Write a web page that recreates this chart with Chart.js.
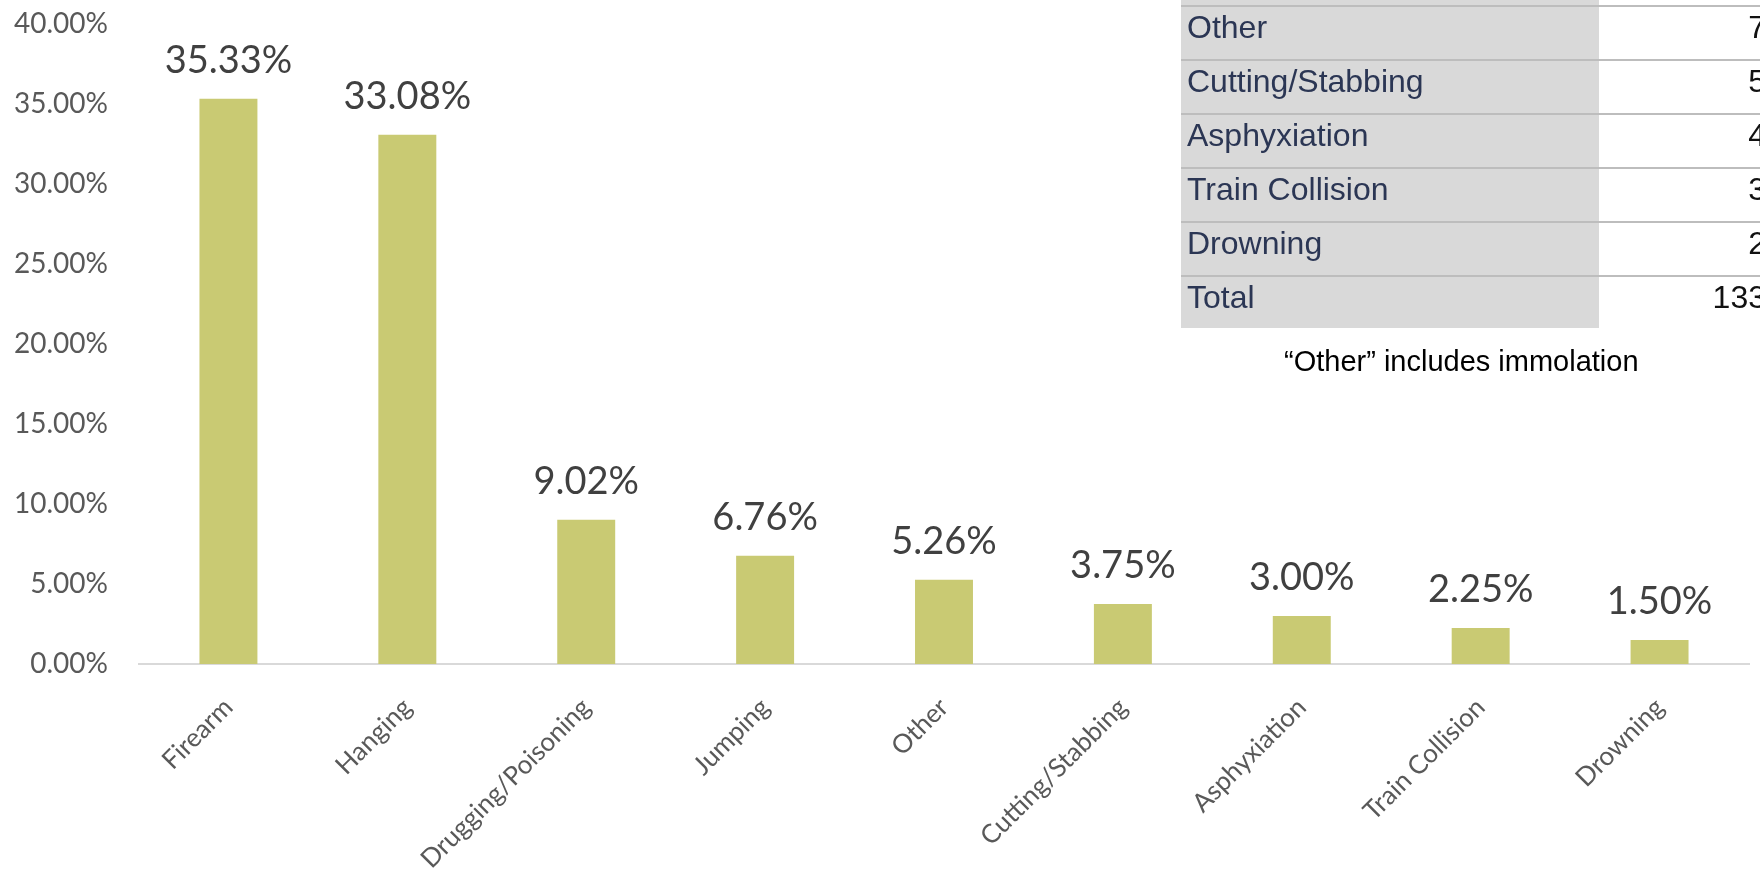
<!DOCTYPE html>
<html>
<head>
<meta charset="utf-8">
<script src="https://cdn.jsdelivr.net/npm/chart.js@4.4.1/dist/chart.umd.min.js"></script>
<style>
  html, body { margin: 0; padding: 0; background: #fff; overflow: hidden; }
  #wadah { position: relative; width: 1760px; height: 886px; overflow: hidden; }
  #grafik { position: absolute; left: 0; top: 0; }
  .kolom_abu { position: absolute; left: 1181px; top: 0; width: 418px; height: 328px; background: #d9d9d9; }
  .baris { position: absolute; left: 1181px; width: 585px; height: 52px; border-top: 2px solid #bdbdbd;
           font-family: "Liberation Sans", Arial, sans-serif; font-size: 32px; line-height: 40px; }
  .baris .nama { position: absolute; left: 6px; top: 0; color: #2b3654; white-space: nowrap; }
  .baris .jumlah { position: absolute; right: 0; top: 0; color: #111; }
  .catatan { position: absolute; left: 1284px; top: 341px; font-family: "Liberation Sans", Arial, sans-serif;
             font-size: 29px; line-height: 40px; color: #000; white-space: nowrap; }
</style>
</head>
<body>
<div id="wadah">
  <canvas id="grafik" width="1760" height="886"></canvas>
  <div class="kolom_abu"></div>
  <div id="tabel"></div>
  <div class="catatan">“Other” includes immolation</div>
</div>
<script>
const kategori = ["Firearm", "Hanging", "Drugging/Poisoning", "Jumping", "Other",
  "Cutting/Stabbing", "Asphyxiation", "Train Collision", "Drowning"];
const persen = [35.33, 33.08, 9.02, 6.76, 5.26, 3.75, 3.00, 2.25, 1.50];
const yMaks = 40;
const yLangkah = 5;

// visible part of the table on the right
const tabelNama = ["Other", "Cutting/Stabbing", "Asphyxiation", "Train Collision", "Drowning", "Total"];
const tabelJumlah = [7, 5, 4, 3, 2, 133];

const tabel = document.getElementById("tabel");
tabelNama.forEach((nama, i) => {
  const baris = document.createElement("div");
  baris.className = "baris";
  baris.style.top = 5 + i * 54 + "px";
  baris.innerHTML = `<span class="nama">${nama}</span><span class="jumlah">${tabelJumlah[i]}</span>`;
  tabel.appendChild(baris);
});

const labelNilai = {
  id: "labelNilai",
  afterDatasetsDraw(chart) {
    const ctx = chart.ctx;
    const meta = chart.getDatasetMeta(0);
    ctx.save();
    ctx.font = "38px Lato";
    ctx.fillStyle = "#404040";
    ctx.textAlign = "center";
    ctx.textBaseline = "middle";
    meta.data.forEach((bar, i) => {
      ctx.fillText(persen[i].toFixed(2) + "%", bar.x, bar.y - 38);
    });
    ctx.restore();
  },
};

Chart.defaults.font.family = "Lato";

const grafik = new Chart(document.getElementById("grafik").getContext("2d"), {
  type: "bar",
  data: {
    labels: kategori,
    datasets: [
      {
        data: persen,
        backgroundColor: "#c9ca73",
        barPercentage: 0.324,
        categoryPercentage: 1,
      },
    ],
  },
  options: {
    responsive: false,
    animation: false,
    layout: { padding: { top: 24, right: 11, left: 0, bottom: 0 } },
    plugins: {
      legend: { display: false },
      tooltip: { enabled: false },
    },
    scales: {
      x: {
        grid: { display: false, drawTicks: false },
        border: { display: true, color: "#d9d9d9", width: 2 },
        ticks: {
          color: "#595959",
          font: { size: 26 },
          maxRotation: 45,
          minRotation: 45,
          padding: 28,
        },
        afterFit: (s) => { s.height = 222; },
      },
      y: {
        min: 0,
        max: yMaks,
        grid: { display: false, drawTicks: false },
        border: { display: false },
        ticks: {
          stepSize: yLangkah,
          color: "#595959",
          font: { size: 28 },
          padding: 31,
          callback: (v) => v.toFixed(2) + "%",
        },
        afterFit: (s) => {
          s.width = 139;
          // tick padding otherwise pushes the plot top down
          s.paddingTop = 0;
          s.paddingBottom = 0;
        },
      },
    },
  },
  plugins: [labelNilai],
});
</script>
</body>
</html>
